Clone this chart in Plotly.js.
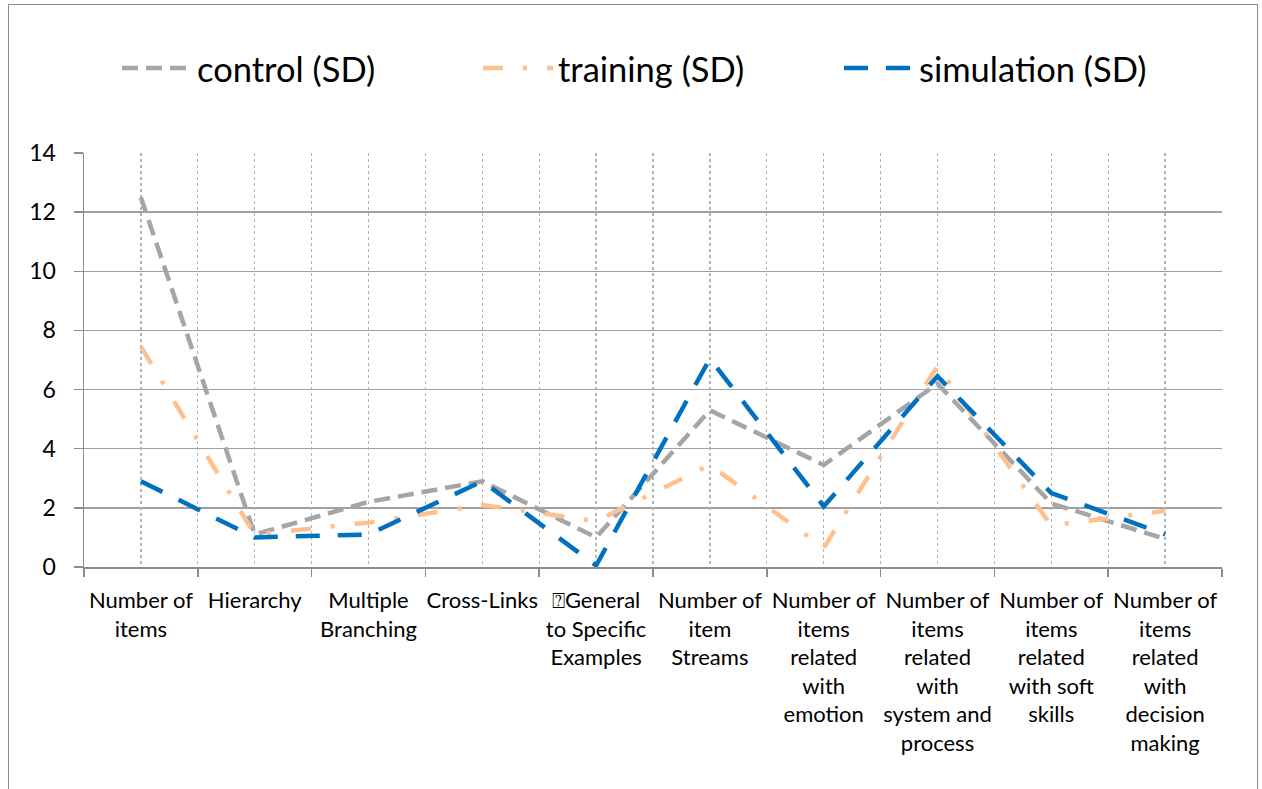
<!DOCTYPE html>
<html>
<head>
<meta charset="utf-8">
<script src="https://cdn.plot.ly/plotly-3.0.1.min.js"></script>
<style>
html,body{margin:0;padding:0;background:#fff;}
#chart{position:absolute;left:0;top:0;width:1262px;height:789px;}
#frame{position:absolute;left:8px;top:4px;width:1248px;height:800px;border:1px solid #8c8c8c;pointer-events:none;}
</style>
</head>
<body>
<div id="chart"></div>
<div id="frame"></div>
<script>
const categories = [
  "Number of<br>items",
  "Hierarchy",
  "Multiple<br>Branching",
  "Cross-Links",
  "\u2370General<br>to Specific<br>Examples",
  "Number of<br>item<br>Streams",
  "Number of<br>items<br>related<br>with<br>emotion",
  "Number of<br>items<br>related<br>with<br>system and<br>process",
  "Number of<br>items<br>related<br>with soft<br>skills",
  "Number of<br>items<br>related<br>with<br>decision<br>making"
];
const seriesNames = ["control (SD)", "training (SD)", "simulation (SD)"];
const control    = [12.5, 1.1, 2.2, 2.9, 1.0, 5.3, 3.45, 6.2, 2.15, 0.95];
const training   = [7.45, 1.1, 1.5, 2.1, 1.55, 3.45, 0.65, 6.8, 1.4, 1.9];
const simulation = [2.9, 1.0, 1.1, 2.9, 0.05, 7.05, 2.05, 6.45, 2.5, 1.1];
const yTicks = [0, 2, 4, 6, 8, 10, 12, 14];

const FONT = "Lato, 'Open Sans', sans-serif";

const traces = [
  {x: categories, y: control, name: seriesNames[0], type: "scatter", mode: "lines",
   line: {color: "#A5A5A5", width: 4.5, dash: "16px,8px"}},
  {x: categories, y: training, name: seriesNames[1], type: "scatter", mode: "lines",
   line: {color: "#FFC08F", width: 4.5, dash: "20px,20px,4px,20px"}},
  {x: categories, y: simulation, name: seriesNames[2], type: "scatter", mode: "lines",
   line: {color: "#0070C0", width: 4.5, dash: "24px,18px"}},
  {x: [], y: [], xaxis: "x2", type: "scatter", mode: "lines", showlegend: false, hoverinfo: "skip"}
];

const layout = {
  width: 1262, height: 789,
  margin: {l: 84, r: 40, t: 153, b: 222},
  paper_bgcolor: "#fff", plot_bgcolor: "#fff",
  font: {family: FONT, color: "#000"},
  showlegend: true,
  legend: {
    orientation: "h", x: 0.029, y: 1.205, xanchor: "left", yanchor: "middle",
    font: {size: 34.5, family: FONT, color: "#000"},
    itemwidth: 70, entrywidth: 276, entrywidthmode: "pixels",
    traceorder: "normal"
  },
  xaxis: {
    type: "category", categoryarray: categories, categoryorder: "array",
    range: [-0.5, 9.5],
    showgrid: false, tickson: "boundaries", ticks: "outside", ticklen: 8,
    tickcolor: "#8c8c8c", tickwidth: 1.5,
    showline: true, linecolor: "#8c8c8c", linewidth: 1.5,
    tickfont: {size: 22, family: FONT, color: "#000"},
    ticklabelstandoff: 13,
    tickangle: 0, zeroline: false, fixedrange: true
  },
  xaxis2: {
    type: "linear", overlaying: "x", range: [-0.5, 9.5],
    tick0: -0.5, dtick: 0.5, showgrid: true, griddash: "dot",
    gridcolor: "#b4b4b4", gridwidth: 1.2,
    showticklabels: false, ticks: "", zeroline: false, showline: false, fixedrange: true
  },
  yaxis: {
    range: [0, 14], tickvals: yTicks, ticks: "outside", ticklen: 9,
    tickcolor: "#8c8c8c", tickwidth: 1.5,
    showline: true, linecolor: "#8c8c8c", linewidth: 1.5,
    showgrid: true, gridcolor: "#a0a0a0", gridwidth: 1.5,
    zeroline: false, tickfont: {size: 23, family: FONT, color: "#000"},
    ticklabelstandoff: 13,
    fixedrange: true
  }
};

Plotly.newPlot("chart", traces, layout, {displayModeBar: false, staticPlot: true});
</script>
</body>
</html>
